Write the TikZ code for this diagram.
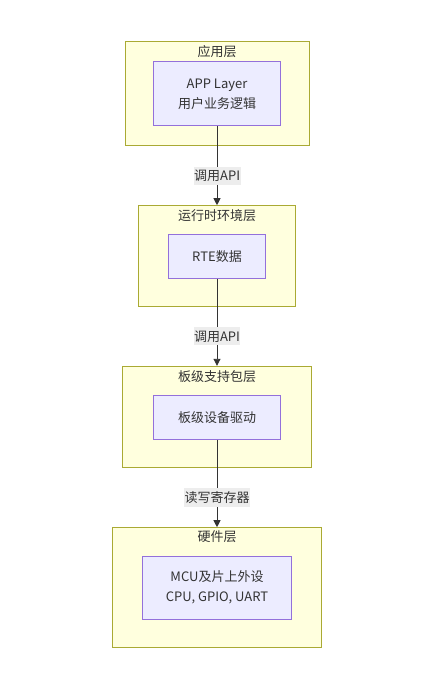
\documentclass[tikz,border=0pt]{standalone}
\usepackage{fontspec}
\setmainfont{Noto Sans CJK SC}
\usetikzlibrary{calc,arrows.meta}
\definecolor{clfill}{HTML}{FFFFDE}
\definecolor{clline}{HTML}{AAAA33}
\definecolor{ndfill}{HTML}{ECECFF}
\definecolor{ndline}{HTML}{9370DB}
\definecolor{txt}{HTML}{333333}
\definecolor{lblbg}{HTML}{EDEDED}
\tikzset{
  cluster/.style={draw=clline, fill=clfill, line width=1pt, inner sep=0pt},
  inbox/.style={draw=ndline, fill=ndfill, line width=1pt, inner sep=0pt, align=center, text=txt, font=\fontsize{13}{20}\selectfont},
  ttl/.style={text=txt, font=\fontsize{13}{16}\selectfont, inner sep=0pt},
  elabel/.style={fill=lblbg, text=txt, font=\fontsize{13}{16}\selectfont, inner xsep=0.5pt, inner ysep=3pt},
  conn/.style={draw=txt, line width=0.9pt, -{Triangle[length=7pt,width=7pt]}}
}
\begin{document}
\begin{tikzpicture}[x=1pt,y=-1pt]
\useasboundingbox (0,0) rectangle (444,678);
\fill[white] (0,0) rectangle (444,678);
% clusters
\node[cluster, minimum width=184.3pt, minimum height=104.3pt] (c1) at (217.2,93.8) {};
\node[cluster, minimum width=157.4pt, minimum height=100.6pt] (c2) at (217,256) {};
\node[cluster, minimum width=188.6pt, minimum height=101pt] (c3) at (217,416.8) {};
\node[cluster, minimum width=209.4pt, minimum height=120pt] (c4) at (217,587.7) {};
% titles
\node[ttl] (t1) at (217,51.7) {应用层};
\node[ttl] (t2) at (217,215.7) {运行时环境层};
\node[ttl] (t3) at (217,376.7) {板级支持包层};
\node[ttl] (t4) at (217,536.7) {硬件层};
% inner nodes
\node[inbox, minimum width=127.4pt, minimum height=63.7pt] (n1) at (217,93.8) {APP Layer\\用户业务逻辑};
\node[inbox, minimum width=97.4pt, minimum height=44pt] (n2) at (217,256.3) {RTE数据};
\node[inbox, minimum width=127.4pt, minimum height=44.3pt] (n3) at (217,417.2) {板级设备驱动};
\node[inbox, minimum width=149.4pt, minimum height=63.3pt] (n4) at (217,587.7) {MCU及片上外设\\CPU, GPIO, UART};
% connectors
\draw[conn] (n1.south) -- (c2.north);
\draw[conn] (n2.south) -- (c3.north);
\draw[conn] (n3.south) -- (c4.north);
% labels
\node[elabel] (l1) at ($(c1.south)!0.5!(c2.north)$) {调用API};
\node[elabel] (l2) at ($(c2.south)!0.5!(c3.north)$) {调用API};
\node[elabel] (l3) at ($(c3.south)!0.5!(c4.north)$) {读写寄存器};
\end{tikzpicture}
\end{document}
